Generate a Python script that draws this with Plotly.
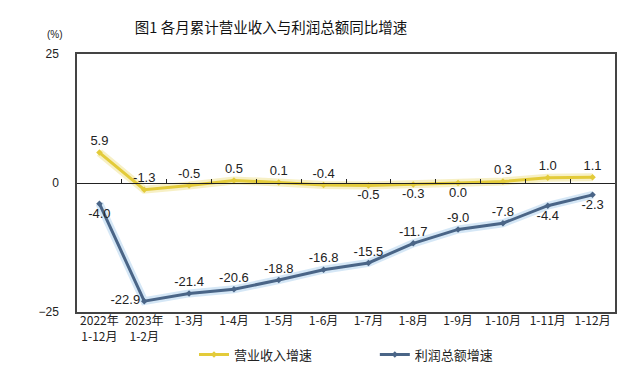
import plotly.graph_objects as go

categories = ["2022年<br>1-12月", "2023年<br>1-2月", "1-3月", "1-4月", "1-5月", "1-6月",
              "1-7月", "1-8月", "1-9月", "1-10月", "1-11月", "1-12月"]
revenue = [5.9, -1.3, -0.5, 0.5, 0.1, -0.4, -0.5, -0.3, 0.0, 0.3, 1.0, 1.1]
profit = [-4.0, -22.9, -21.4, -20.6, -18.8, -16.8, -15.5, -11.7, -9.0, -7.8, -4.4, -2.3]
revenue_pos = ["top center"] * 6 + ["bottom center"] * 3 + ["top center"] * 3
profit_pos = ["bottom center", "middle left"] + ["top center"] * 8 + ["bottom center", "bottom center"]
y_ticks = [-25, 0, 25]

YEL = "#E3CB3A"
BLU = "#4A6587"
FONT = "Noto Sans CJK SC, Arial, sans-serif"

fig = go.Figure()
# soft halos
fig.add_trace(go.Scatter(x=categories, y=revenue, mode="lines", line=dict(color="rgba(240,228,150,0.55)", width=8),
                         hoverinfo="skip", showlegend=False))
fig.add_trace(go.Scatter(x=categories, y=profit, mode="lines", line=dict(color="rgba(185,215,240,0.6)", width=8),
                         hoverinfo="skip", showlegend=False))
fig.add_trace(go.Scatter(x=categories, y=revenue, mode="lines+markers+text",
                         name="营业收入增速\u3000\u3000\u3000\u3000  ",
                         line=dict(color=YEL, width=3), marker=dict(color=YEL, size=5, symbol="diamond"),
                         text=[f"{v:.1f}" for v in revenue], textposition=revenue_pos, cliponaxis=False,
                         textfont=dict(family="Arial", size=13, color="#222")))
fig.add_trace(go.Scatter(x=categories, y=profit, mode="lines+markers+text", name="利润总额增速",
                         line=dict(color=BLU, width=3), marker=dict(color=BLU, size=5, symbol="diamond"),
                         text=[f"{v:.1f}" for v in profit], textposition=profit_pos, cliponaxis=False,
                         textfont=dict(family="Arial", size=13, color="#222")))
# axis at zero with tick marks between categories
fig.add_trace(go.Scatter(x=categories, y=[None] * len(categories), xaxis="x2", showlegend=False,
                         hoverinfo="skip", mode="lines"))

fig.update_layout(
    width=633, height=382,
    margin=dict(l=69, r=26, t=46, b=78),
    paper_bgcolor="white", plot_bgcolor="white",
    font=dict(family=FONT, size=12, color="#222"),
    title=dict(text="图1 各月累计营业收入与利润总额同比增速", x=263 / 633, xanchor="center",
               y=1 - 20 / 382, yanchor="middle", yref="container",
               font=dict(family=FONT, size=14.5, color="#111")),
    xaxis=dict(type="category", range=[-0.5, 11.5], showline=True, linecolor="#444", linewidth=1.5,
               mirror=True, showgrid=False, ticks="", tickfont=dict(size=12, family=FONT), tickangle=0,
               ticklabelstandoff=-3),
    xaxis2=dict(type="category", range=[-0.5, 11.5], overlaying="x", anchor="free", position=0.5,
                showline=True, linecolor="#222", linewidth=1.2, showgrid=False, showticklabels=False,
                ticks="inside", ticklen=4, tickcolor="#222", tickson="boundaries"),
    yaxis=dict(range=[-25, 25], tickvals=y_ticks, showline=True, linecolor="#444", linewidth=1.5,
               mirror=True, showgrid=False, zeroline=False, ticks="", ticklabelstandoff=14,
               tickfont=dict(family="Arial", size=12, color="#222")),
    legend=dict(orientation="h", x=0.5, xanchor="center", y=-0.165, yanchor="middle",
                itemwidth=30, font=dict(family=FONT, size=13, color="#222"), traceorder="normal"),
    showlegend=True,
)
fig.add_annotation(text="(%)", xref="paper", yref="paper", x=-0.0415, y=1.075, showarrow=False,
                   font=dict(family="Arial", size=10, color="#222"), xanchor="center", yanchor="middle")

fig.write_html("out.html")
